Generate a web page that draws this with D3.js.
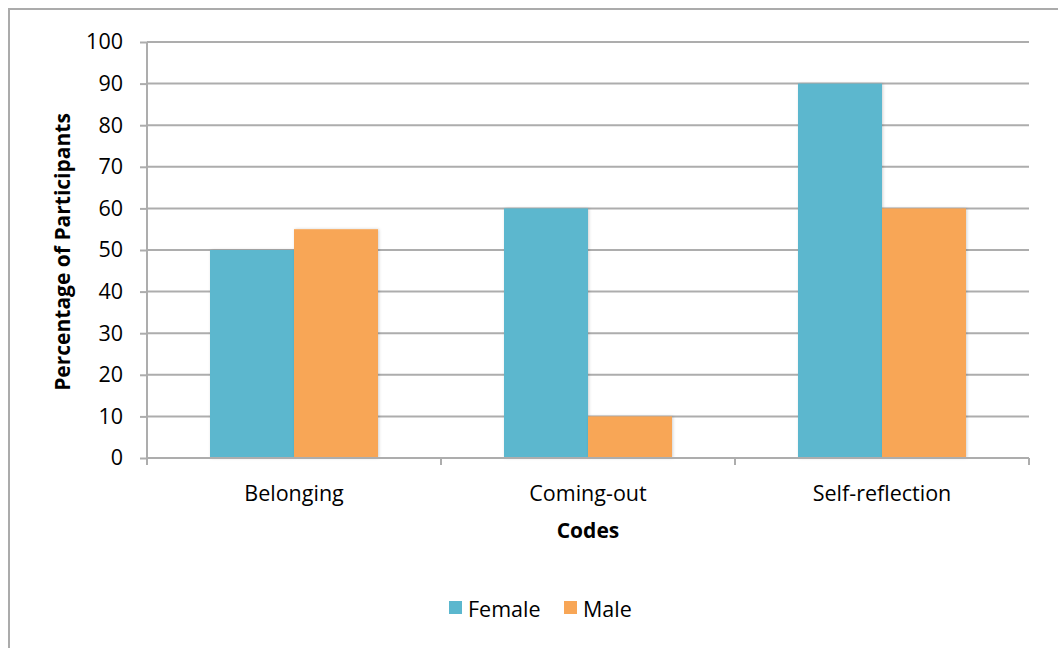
<!DOCTYPE html>
<html>
<head>
<meta charset="utf-8">
<script src="https://cdn.jsdelivr.net/npm/d3@7"></script>
<style>
  html, body { margin: 0; padding: 0; background: #fff; }
  svg { display: block; }
  text { font-family: "Open Sans", Lato, sans-serif; fill: #000; }
</style>
</head>
<body>
<svg id="chart" width="1058" height="648"></svg>
<script>
const categories = ["Belonging", "Coming-out", "Self-reflection"];
const seriesNames = ["Female", "Male"];
const femaleValues = [50, 60, 90];
const maleValues = [55, 10, 60];
const yTicks = [0, 10, 20, 30, 40, 50, 60, 70, 80, 90, 100];
const colors = ["#5BB7CE", "#F8A656"];

const svg = d3.select("#chart");
const W = 1058, H = 648;
const FS = 21.5;

// outer frame
svg.append("rect")
  .attr("x", 9).attr("y", 9)
  .attr("width", W + 20).attr("height", H + 20)
  .attr("fill", "#fff").attr("stroke", "#ABABAB").attr("stroke-width", 2);

const plot = { left: 147, right: 1029, top: 42, bottom: 458 };

const x = d3.scaleBand().domain(categories).range([plot.left, plot.right]);
const inner = d3.scaleBand().domain(seriesNames)
  .range([0, x.bandwidth()]).paddingOuter(0.5 * 126 / 84).paddingInner(0);
const y = d3.scaleLinear().domain([0, 100]).range([plot.bottom, plot.top]);

const defs = svg.append("defs");
const f = defs.append("filter").attr("id", "shadow")
  .attr("x", "-10%").attr("y", "-10%").attr("width", "120%").attr("height", "120%");
f.append("feDropShadow").attr("dx", 1).attr("dy", 0).attr("stdDeviation", 1.5)
  .attr("flood-color", "#000").attr("flood-opacity", 0.18);

// gridlines
svg.append("g").selectAll("line").data(yTicks.filter(d => d > 0)).join("line")
  .attr("x1", plot.left).attr("x2", plot.right)
  .attr("y1", d => y(d)).attr("y2", d => y(d))
  .attr("stroke", "#ADADAD").attr("stroke-width", 2);

// bars
const data = categories.map((c, i) => ({ cat: c, vals: [femaleValues[i], maleValues[i]] }));
const groups = svg.append("g").selectAll("g").data(data).join("g")
  .attr("transform", d => `translate(${x(d.cat)},0)`);
groups.selectAll("rect").data(d => d.vals.map((v, j) => ({ v, s: seriesNames[j], j })))
  .join("rect")
  .attr("x", d => inner(d.s))
  .attr("width", inner.bandwidth())
  .attr("y", d => y(d.v))
  .attr("height", d => y(0) - y(d.v))
  .attr("fill", d => colors[d.j])
  .attr("filter", "url(#shadow)");

// y axis
const yAxis = svg.append("g").attr("transform", `translate(${plot.left},0)`)
  .call(d3.axisLeft(y).tickValues(yTicks).tickSize(7).tickPadding(17));
yAxis.select(".domain").attr("stroke", "#ADADAD").attr("stroke-width", 2)
  .attr("d", `M0,${plot.top}V${plot.bottom}`);
yAxis.selectAll(".tick line").attr("stroke", "#ADADAD").attr("stroke-width", 2);
yAxis.selectAll(".tick text").style("font-size", FS + "px").attr("fill", "#000");

// x axis
const xAxis = svg.append("g").attr("transform", `translate(0,${plot.bottom})`)
  .call(d3.axisBottom(x).tickSize(0).tickPadding(0));
xAxis.select(".domain").attr("stroke", "#ADADAD").attr("stroke-width", 2)
  .attr("d", `M${plot.left},0H${plot.right}`);
xAxis.selectAll(".tick text").style("font-size", FS + "px").attr("fill", "#000")
  .attr("dy", null).attr("y", 43);
const boundaries = categories.map(c => x(c)).concat([x(categories[categories.length - 1]) + x.bandwidth()]);
xAxis.append("g").selectAll("line").data(boundaries).join("line")
  .attr("x1", d => d).attr("x2", d => d).attr("y1", 0).attr("y2", 7)
  .attr("stroke", "#ADADAD").attr("stroke-width", 2);

// axis titles
svg.append("text")
  .attr("transform", `translate(70,${(plot.top + plot.bottom) / 2 + 2}) rotate(-90)`)
  .attr("text-anchor", "middle")
  .style("font-size", "21px").style("font-weight", "bold")
  .text("Percentage of Participants");
svg.append("text")
  .attr("x", (plot.left + plot.right) / 2).attr("y", 538)
  .attr("text-anchor", "middle")
  .style("font-size", "21px").style("font-weight", "bold")
  .text("Codes");

// legend
const legend = svg.append("g");
const legendX = [449, 564];
seriesNames.forEach((s, i) => {
  legend.append("rect").attr("x", legendX[i]).attr("y", 601)
    .attr("width", 13).attr("height", 13).attr("fill", colors[i]);
  legend.append("text").attr("x", legendX[i] + 19).attr("y", 617)
    .style("font-size", FS + "px").text(s);
});
</script>
</body>
</html>
